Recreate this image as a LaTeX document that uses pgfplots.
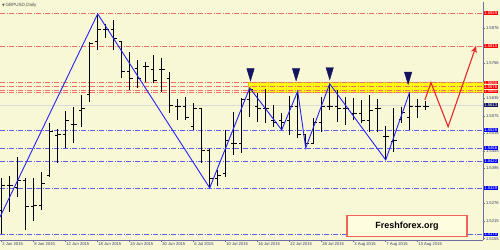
\documentclass[border=0pt]{standalone}
\usepackage{fontspec}
\setmainfont{Liberation Sans}
\newfontfamily\dejavu{DejaVu Sans}
\usepackage{pgfplots}
\pgfplotsset{compat=1.18}
\usepackage{pgfplotstable}
\usetikzlibrary{arrows.meta,shadows}
\definecolor{bgc}{RGB}{248,248,214}
\definecolor{redl}{RGB}{240,110,100}
\definecolor{bluel}{RGB}{95,95,240}
\definecolor{zz}{RGB}{35,35,250}
\definecolor{navyarr}{RGB}{20,20,95}
\definecolor{axc}{RGB}{110,110,160}
\definecolor{txt}{RGB}{60,60,110}
\definecolor{fcred}{RGB}{230,40,40}
\definecolor{bandy}{RGB}{255,250,20}
\definecolor{bande}{RGB}{215,190,30}

\pgfplotstableread{
i O H L C
0 1.5253 1.5363 1.5170 1.5339
1 1.5339 1.5370 1.5246 1.5339
2 1.5332 1.5435 1.5298 1.5356
3 1.5356 1.5363 1.5185 1.5264
4 1.5264 1.5363 1.5216 1.5270
5 1.5270 1.5384 1.5253 1.5346
6 1.5373 1.5552 1.5366 1.5521
7 1.5510 1.5531 1.5415 1.5514
8 1.5511 1.5593 1.5466 1.5559
9 1.5548 1.5607 1.5483 1.5548
10 1.5596 1.5648 1.5538 1.5600
11 1.5648 1.5830 1.5624 1.5826
12 1.5830 1.5926 1.5802 1.5874
13 1.5874 1.5891 1.5843 1.5874
14 1.5874 1.5905 1.5802 1.5840
15 1.5830 1.5830 1.5706 1.5727
16 1.5727 1.5795 1.5665 1.5703
17 1.5740 1.5768 1.5672 1.5703
18 1.5744 1.5761 1.5692 1.5744
19 1.5734 1.5785 1.5689 1.5699
20 1.5734 1.5775 1.5658 1.5734
21 1.5703 1.5727 1.5586 1.5613
22 1.5607 1.5634 1.5562 1.5607
23 1.5607 1.5641 1.5562 1.5572
24 1.5541 1.5620 1.5528 1.5600
25 1.5600 1.5603 1.5415 1.5459
26 1.5459 1.5463 1.5329 1.5363
27 1.5363 1.5391 1.5336 1.5373
28 1.5380 1.5528 1.5366 1.5493
29 1.5483 1.5589 1.5442 1.5483
30 1.5483 1.5637 1.5449 1.5631
31 1.5634 1.5672 1.5572 1.5668
32 1.5607 1.5655 1.5555 1.5603
33 1.5600 1.5668 1.5552 1.5603
34 1.5559 1.5613 1.5538 1.5555
35 1.5559 1.5586 1.5528 1.5552
36 1.5559 1.5644 1.5511 1.5607
37 1.5607 1.5661 1.5500 1.5511
38 1.5511 1.5511 1.5466 1.5483
39 1.5483 1.5569 1.5483 1.5555
40 1.5555 1.5641 1.5521 1.5607
41 1.5607 1.5686 1.5596 1.5607
42 1.5607 1.5665 1.5555 1.5603
43 1.5603 1.5641 1.5545 1.5603
44 1.5586 1.5637 1.5562 1.5586
45 1.5586 1.5631 1.5552 1.5562
46 1.5559 1.5648 1.5521 1.5596
47 1.5600 1.5634 1.5521 1.5600
48 1.5507 1.5541 1.5425 1.5507
49 1.5490 1.5603 1.5452 1.5493
50 1.5565 1.5607 1.5552 1.5589
51 1.5572 1.5658 1.5528 1.5607
52 1.5607 1.5634 1.5569 1.5607
53 1.5607 1.5627 1.5596 1.5607
}\bars

\newcommand{\plbl}[2]{\node[anchor=west,fill=#1,text=white,inner xsep=0.5pt,inner ysep=0.3pt,font=\fontsize{4.2}{4.4}\selectfont,xshift=0.6bp] at (axis cs:60.16,#2) {#2};}

\begin{document}
\begin{tikzpicture}
\path[use as bounding box] (0,0) rectangle (500bp,250bp);
\fill[bgc] (0,0) rectangle (500bp,250bp);
\begin{axis}[
  at={(0bp,10bp)}, anchor=south west,
  scale only axis, width=483bp, height=238bp,
  xmin=-0.21, xmax=60.16, ymin=1.51504, ymax=1.59667,
  clip=false,
  axis x line*=bottom, axis y line*=right,
  axis line style={axc, line width=0.6bp},
  tick style={axc, line width=0.5bp},
  tick align=outside, major tick length=2bp,
  xtick={0,4,...,52},
  xticklabels={2 Jun 2015,8 Jun 2015,12 Jun 2015,18 Jun 2015,24 Jun 2015,30 Jun 2015,6 Jul 2015,10 Jul 2015,16 Jul 2015,22 Jul 2015,28 Jul 2015,3 Aug 2015,7 Aug 2015,13 Aug 2015},
  xticklabel style={anchor=north west, inner sep=0.4pt, font=\fontsize{4.2}{4.6}\selectfont, text=txt},
  ytick={1.5155,1.5215,1.5276,1.5396,1.5455,1.5516,1.5575,1.5636,1.5756,1.5876},
  yticklabels={1.5155,1.5215,1.5276,1.5396,1.5455,1.5516,1.5575,1.5636,1.5756,1.5876},
  yticklabel pos=right,
  yticklabel style={anchor=west, inner sep=0.5pt, xshift=0.3bp, font=\fontsize{4.2}{4.6}\selectfont, text=txt},
]
% yellow band
\addplot[fill=bandy, draw=bande, line width=0.8bp] coordinates {(30.8,1.5655) (60.16,1.5655) (60.16,1.5692) (30.8,1.5692)} -- cycle;
% resistance lines
\addplot[redl, line width=0.6bp, dash pattern=on 5bp off 1.5bp on 1bp off 1.5bp] coordinates {(-0.21,1.5929) (60.16,1.5929)};
\addplot[redl, line width=0.6bp, dash pattern=on 5bp off 1.5bp on 1bp off 1.5bp] coordinates {(-0.21,1.5815) (60.16,1.5815)};
\addplot[redl, line width=0.6bp, dash pattern=on 5bp off 1.5bp on 1bp off 1.5bp] coordinates {(-0.21,1.5690) (60.16,1.5690)};
\addplot[redl, line width=0.6bp, dash pattern=on 5bp off 1.5bp on 1bp off 1.5bp] coordinates {(-0.21,1.5676) (60.16,1.5676)};
\addplot[redl, line width=0.6bp, dash pattern=on 5bp off 1.5bp on 1bp off 1.5bp] coordinates {(-0.21,1.5665) (60.16,1.5665)};
\addplot[redl, line width=0.6bp, dash pattern=on 5bp off 1.5bp on 1bp off 1.5bp] coordinates {(-0.21,1.5656) (60.16,1.5656)};
% bid line
\addplot[black!15, line width=0.6bp] coordinates {(-0.21,1.5613) (60.16,1.5613)};
% support lines
\addplot[bluel, line width=0.6bp, dash pattern=on 5bp off 1.5bp on 1bp off 1.5bp] coordinates {(-0.21,1.5528) (60.16,1.5528)};
\addplot[bluel, line width=0.6bp, dash pattern=on 5bp off 1.5bp on 1bp off 1.5bp] coordinates {(-0.21,1.5466) (60.16,1.5466)};
\addplot[bluel, line width=0.6bp, dash pattern=on 5bp off 1.5bp on 1bp off 1.5bp] coordinates {(-0.21,1.5422) (60.16,1.5422)};
\addplot[bluel, line width=0.6bp, dash pattern=on 5bp off 1.5bp on 1bp off 1.5bp] coordinates {(-0.21,1.5329) (60.16,1.5329)};
\addplot[bluel, line width=0.6bp, dash pattern=on 5bp off 1.5bp on 1bp off 1.5bp] coordinates {(-0.21,1.5170) (60.16,1.5170)};
% OHLC bars
\addplot[draw=none, mark=none, error bars/.cd, y dir=minus, y explicit, error mark=none, error bar style={black, line width=1.1bp}]
  table[x=i, y=H, y error minus expr=\thisrow{H}-\thisrow{L}] {\bars};
\addplot[draw=none, mark=none, error bars/.cd, x dir=minus, x explicit, error mark=none, error bar style={black, line width=0.9bp}]
  table[x=i, y=O, x error minus expr=0.38] {\bars};
\addplot[draw=none, mark=none, error bars/.cd, x dir=plus, x explicit, error mark=none, error bar style={black, line width=0.9bp}]
  table[x=i, y=C, x error plus expr=0.38] {\bars};
% zigzag
\addplot[zz, line width=0.9bp] coordinates {(-0.21,1.5229) (12,1.5926) (26,1.5329) (31,1.5672) (35,1.5528) (37,1.5661) (38,1.5466) (41,1.5686) (48,1.5425) (51,1.5658)};
% arrows
\addplot[only marks, mark=triangle*, mark size=4.3bp, mark options={rotate=180, yscale=1.9, fill=navyarr, draw=navyarr}] coordinates {(31.1,1.5724) (36.8,1.5724) (41,1.5728) (50.8,1.5712)};
% forecast
\addplot[fcred, line width=1.1bp, -{Stealth[length=7bp,width=6bp,open]}] coordinates {(52.9,1.5631) (53.66,1.5690) (55.8,1.5539) (59.3,1.5816)};
% right labels
\plbl{red}{1.5929}
\plbl{red}{1.5815}
\plbl{red}{1.5690}
\plbl{red}{1.5676}
\plbl{red}{1.5660}
\plbl{navyarr}{1.5613}
\plbl{blue}{1.5528}
\plbl{blue}{1.5466}
\plbl{blue}{1.5422}
\plbl{blue}{1.5329}
\plbl{blue}{1.5170}
\end{axis}
\node[anchor=west, inner sep=0pt, text=black!70, font=\fontsize{4.6}{5}\selectfont] at (2bp,245bp) {{\dejavu\fontsize{3.5}{4}\selectfont ▼}\,GBPUSD,Daily};
\node[draw=redl!90!red, fill=yellow!12, line width=1.2bp, minimum width=120bp, minimum height=21bp, font=\bfseries\fontsize{9}{10}\selectfont, drop shadow={opacity=0.25, shadow xshift=1bp, shadow yshift=-1bp}] at (407bp,24bp) {Freshforex.org};
\end{tikzpicture}
\end{document}
